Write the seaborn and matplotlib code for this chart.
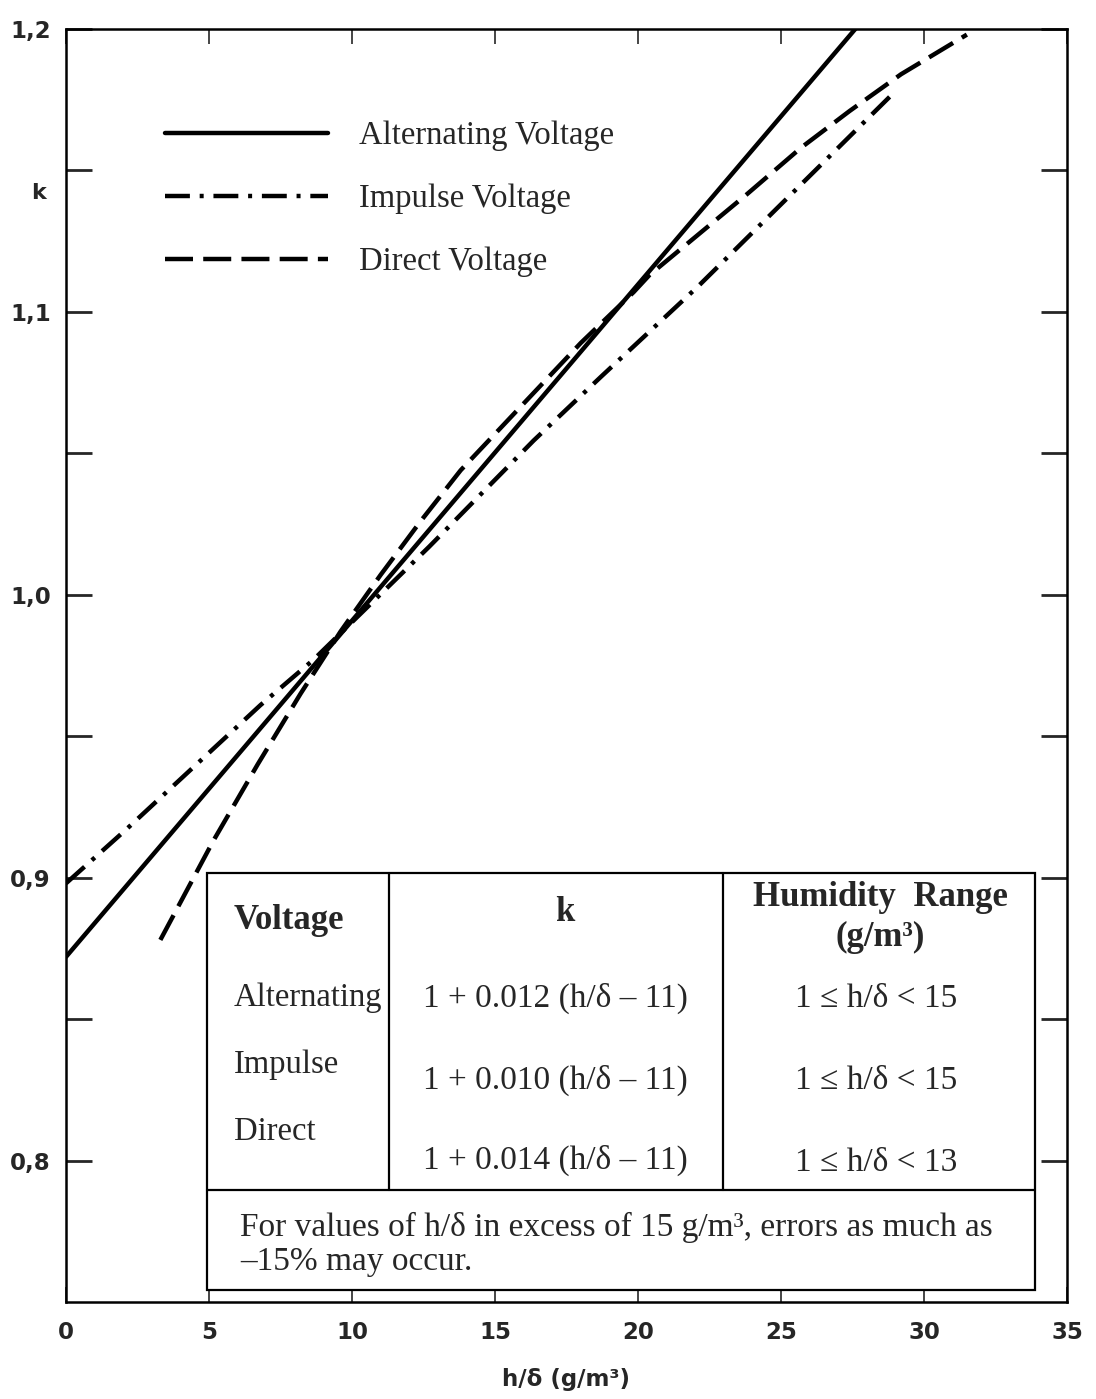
import pandas as pd
import seaborn as sns
import matplotlib.pyplot as plt
from matplotlib.patches import Rectangle

# Values (h/delta in g/m3, correction factor k)
alt_h = [0.0, 27.6]
alt_k = [0.872, 1.200]

imp_h = [0.0, 2.1, 4.45, 6.8, 8.65, 12.7, 16.35, 18.7, 22.1, 24.4, 26.7, 28.8]
imp_k = [0.898, 0.917, 0.939, 0.961, 0.977, 1.017, 1.0545, 1.077, 1.109, 1.132, 1.155, 1.176]

dir_h = [3.3, 5.15, 6.7, 7.6, 8.2, 9.6, 11.0, 12.4, 13.8, 16.6, 18.0, 19.85, 20.4, 23.8, 25.7, 27.4, 29.2, 31.5]
dir_k = [0.878, 0.913, 0.940, 0.955, 0.965, 0.987, 1.007, 1.026, 1.044, 1.074, 1.089, 1.107, 1.113, 1.1415, 1.158, 1.171, 1.184, 1.198]

series_names = ["Alternating Voltage", "Impulse Voltage", "Direct Voltage"]

x_ticks = [0, 5, 10, 15, 20, 25, 30, 35]
y_major = [0.8, 0.9, 1.0, 1.1, 1.2]
y_major_labels = ["0,8", "0,9", "1,0", "1,1", "1,2"]
y_minor = [0.85, 0.95, 1.05, 1.15]

table_rows = ["Alternating", "Impulse", "Direct"]
table_k = ["1 + 0.012 (h/δ – 11)", "1 + 0.010 (h/δ – 11)", "1 + 0.014 (h/δ – 11)"]
table_range = ["1 ≤ h/δ < 15", "1 ≤ h/δ < 15", "1 ≤ h/δ < 13"]
footnote = ["For values of h/δ in excess of 15 g/m³, errors as much as",
            "–15% may occur."]

# long format for seaborn
df = pd.concat([
    pd.DataFrame({"h": alt_h, "k": alt_k, "Voltage": series_names[0]}),
    pd.DataFrame({"h": imp_h, "k": imp_k, "Voltage": series_names[1]}),
    pd.DataFrame({"h": dir_h, "k": dir_k, "Voltage": series_names[2]}),
], ignore_index=True)

sns.set_style("ticks")
plt.rcParams['font.family'] = ['DejaVu Sans']
serif = ['Liberation Serif', 'DejaVu Serif']

fig = plt.figure(figsize=(10.96, 13.99), dpi=100)
ax = fig.add_axes([0.0602, 0.0693, 0.9133, 0.9100])

ax = sns.lineplot(data=df, x="h", y="k", style="Voltage", style_order=series_names,
                  dashes={series_names[0]: "",
                          series_names[1]: (5.6, 2.2, 0.9, 2.2),
                          series_names[2]: (6.3, 2.3)},
                  color="black", linewidth=3.2, sort=False, estimator=None, ax=ax)

ax.set_xlim(0, 35)
ax.set_ylim(0.75, 1.2)
ax.set_xticks(x_ticks)
ax.set_xticklabels([str(t) for t in x_ticks], fontsize=16.5, fontweight="heavy")
ax.set_yticks(y_major)
ax.set_yticklabels(y_major_labels, fontsize=16.5, fontweight="heavy")
ax.set_yticks(y_minor, minor=True)
ax.tick_params(axis="y", which="both", direction="in", length=19, width=2.0,
               left=True, right=True, pad=11)
ax.tick_params(axis="x", which="both", direction="in", length=11, width=1.2,
               bottom=True, top=True, pad=14)
for s in ax.spines.values():
    s.set_linewidth(1.8)
    s.set_color("black")

ax.set_xlabel("h/δ (g/m³)", fontsize=16.5, fontweight="heavy", labelpad=17)
ax.set_ylabel("")
fig.text(0.0347, 0.862, "k", fontsize=16, fontweight="heavy", ha="center", va="center")

# legend
leg = ax.get_legend()
handles = leg.legend_handles
labels = [t.get_text() for t in leg.get_texts()]
leg.remove()
ax.legend(handles, labels, loc="center left", bbox_to_anchor=(0.099, 0.8665),
          frameon=False, borderpad=0, borderaxespad=0, handlelength=5.0,
          handletextpad=0.95, labelspacing=1.0, prop={"family": serif, "size": 23.5})

# table inside the axes
tr = ax.transAxes
x0, x1, c1, c2 = 0.1409, 0.968, 0.3227, 0.6563
y0, y1, ym = 0.0094, 0.337, 0.088
ax.add_patch(Rectangle((x0, y0), x1 - x0, y1 - y0, transform=tr, facecolor="white",
                       edgecolor="black", linewidth=1.6, zorder=5))
ax.plot([x0, x1], [ym, ym], transform=tr, color="black", lw=1.6, zorder=6)
ax.plot([c1, c1], [ym, y1], transform=tr, color="black", lw=1.6, zorder=6)
ax.plot([c2, c2], [ym, y1], transform=tr, color="black", lw=1.6, zorder=6)

ax.text(0.1678, 0.300, "Voltage", transform=tr, family=serif, fontsize=25,
        fontweight="bold", ha="left", va="center", zorder=7)
ax.text(0.4985, 0.306, "k", transform=tr, family=serif, fontsize=25,
        fontweight="bold", ha="center", va="center", zorder=7)
ax.text(0.8132, 0.3174, "Humidity  Range", transform=tr, family=serif, fontsize=25,
        fontweight="bold", ha="center", va="center", zorder=7)
ax.text(0.8132, 0.2867, "(g/m³)", transform=tr, family=serif, fontsize=25,
        fontweight="bold", ha="center", va="center", zorder=7)

row_y = [0.2388, 0.1862, 0.1335]
k_y = [0.2388, 0.1744, 0.1115]
r_y = [0.238, 0.1736, 0.1092]
for name, yy in zip(table_rows, row_y):
    ax.text(0.1678, yy, name, transform=tr, family=serif, fontsize=23.5,
            ha="left", va="center", zorder=7)
for txt, yy in zip(table_k, k_y):
    ax.text(0.4885, yy, txt, transform=tr, family=serif, fontsize=24,
            ha="center", va="center", zorder=7)
for txt, yy in zip(table_range, r_y):
    ax.text(0.8092, yy, txt, transform=tr, family=serif, fontsize=24,
            ha="center", va="center", zorder=7)
for txt, yy in zip(footnote, [0.0589, 0.0314]):
    ax.text(0.1738, yy, txt, transform=tr, family=serif, fontsize=24,
            ha="left", va="center", zorder=7)

fig.savefig("out.png", dpi=100, facecolor="white")
